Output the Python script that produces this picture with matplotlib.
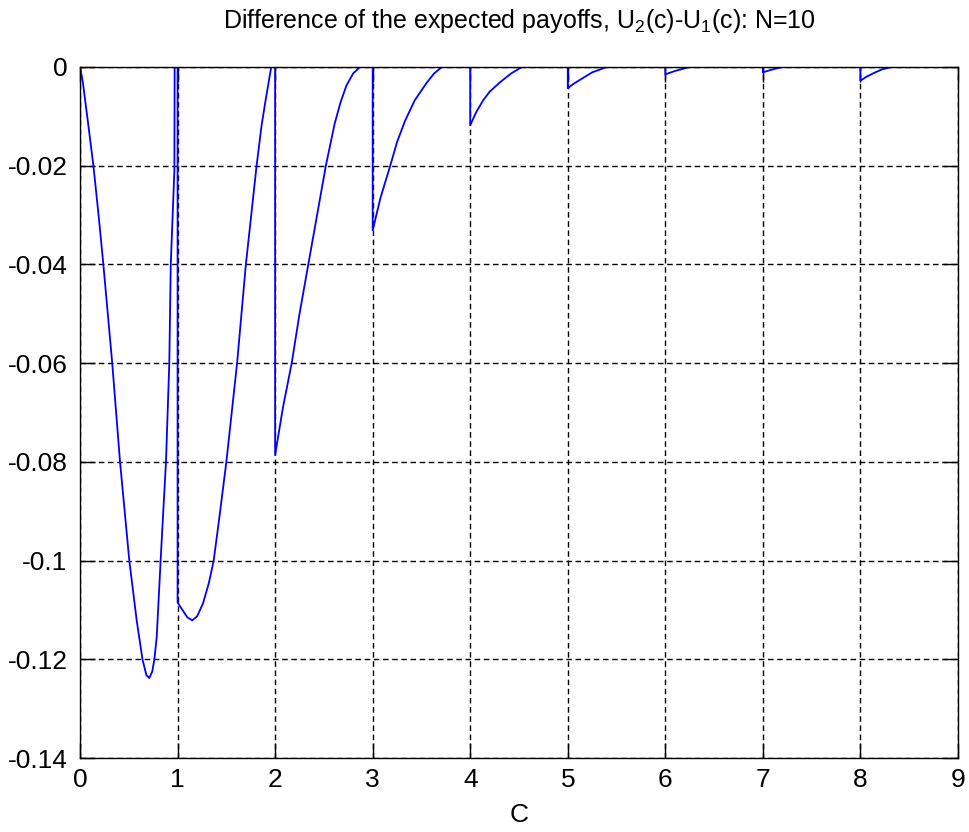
import matplotlib
matplotlib.use('Agg')
import matplotlib.pyplot as plt

plt.rcParams['font.family'] = ['Liberation Sans', 'DejaVu Sans']
plt.rcParams['mathtext.fontset'] = 'custom'
plt.rcParams['mathtext.rm'] = 'Liberation Sans'
plt.rcParams['mathtext.it'] = 'Liberation Sans'

# values, one list per piece of the curve
c0 = [0, 0.028, 0.08, 0.137, 0.19, 0.239, 0.33, 0.41, 0.505, 0.58, 0.64, 0.68,
      0.71, 0.74, 0.762, 0.786, 0.83, 0.881, 0.915, 0.93, 0.967, 0.97, 0.99]
d0 = [0, -0.003, -0.011, -0.020, -0.030, -0.040, -0.060, -0.080, -0.100,
      -0.112, -0.120, -0.1232, -0.1238, -0.1225, -0.120, -0.1155, -0.0985,
      -0.080, -0.060, -0.040, -0.021, 0, 0]

c1 = [1.0, 1.0, 1.05, 1.1, 1.15, 1.2, 1.26, 1.32, 1.37, 1.43, 1.50, 1.61,
      1.70, 1.81, 1.86, 1.90, 1.96, 2.0]
d1 = [0, -0.1085, -0.110, -0.1115, -0.1121, -0.1113, -0.1087, -0.1046, -0.100,
      -0.091, -0.080, -0.060, -0.040, -0.020, -0.012, -0.007, 0, 0]

c2 = [2.0, 2.0, 2.08, 2.17, 2.25, 2.34, 2.43, 2.52, 2.61, 2.67, 2.73, 2.80, 2.87, 3.0]
d2 = [0, -0.0786, -0.069, -0.060, -0.050, -0.040, -0.030, -0.020, -0.0115,
      -0.0072, -0.0038, -0.0013, 0, 0]

c3 = [3.0, 3.0, 3.08, 3.18, 3.25, 3.33, 3.43, 3.55, 3.63, 3.71, 4.0]
d3 = [0, -0.0331, -0.0265, -0.020, -0.0152, -0.0110, -0.0068, -0.0033,
      -0.0013, 0, 0]

c4 = [4.0, 4.0, 4.06, 4.134, 4.2, 4.305, 4.42, 4.53, 5.0]
d4 = [0, -0.0118, -0.0092, -0.0067, -0.0050, -0.0031, -0.0013, 0, 0]

c5 = [5.0, 5.0, 5.06, 5.125, 5.25, 5.40, 6.0]
d5 = [0, -0.0043, -0.0034, -0.0026, -0.0011, 0, 0]

c6 = [6.0, 6.0, 6.1, 6.25, 7.0]
d6 = [0, -0.0015, -0.0008, 0, 0]

c7 = [7.0, 7.0, 7.08, 7.2, 8.0]
d7 = [0, -0.0011, -0.0006, 0, 0]

c8 = [8.0, 8.0, 8.06, 8.13, 8.22, 8.32, 9.0]
d8 = [0, -0.0028, -0.0020, -0.0013, -0.0005, 0, 0]

c = c0 + c1 + c2 + c3 + c4 + c5 + c6 + c7 + c8
d = d0 + d1 + d2 + d3 + d4 + d5 + d6 + d7 + d8

xticks = list(range(0, 10))
yticks = [0, -0.02, -0.04, -0.06, -0.08, -0.1, -0.12, -0.14]
ylabels = ['0', '-0.02', '-0.04', '-0.06', '-0.08', '-0.1', '-0.12', '-0.14']

fig = plt.figure(figsize=(9.69, 8.32), dpi=100)
ax = fig.add_axes([0.0826, 0.0889, 0.906, 0.8306])

ax.plot(c, d, color=(0, 0, 1), linewidth=1.3)

ax.set_xlim(0, 9)
ax.set_ylim(-0.14, 0)
ax.set_xticks(xticks)
ax.set_yticks(yticks)
ax.set_yticklabels(ylabels)
ax.tick_params(direction='in', length=11, width=1, top=True, right=True,
               labelsize=19, colors='black')
ax.tick_params(axis='y', pad=9)
ax.tick_params(axis='x', pad=7)
ax.grid(True, color='black', linestyle=(0, (4, 2.6)), linewidth=1.0)
for s in ax.spines.values():
    s.set_linewidth(1.0)

ax.set_title(r'Difference of the expected payoffs, U$_2$(c)-U$_1$(c): N=10',
             fontsize=18, pad=28)
ax.set_xlabel('C', fontsize=19, labelpad=8)

plt.savefig('out.png', dpi=100)
